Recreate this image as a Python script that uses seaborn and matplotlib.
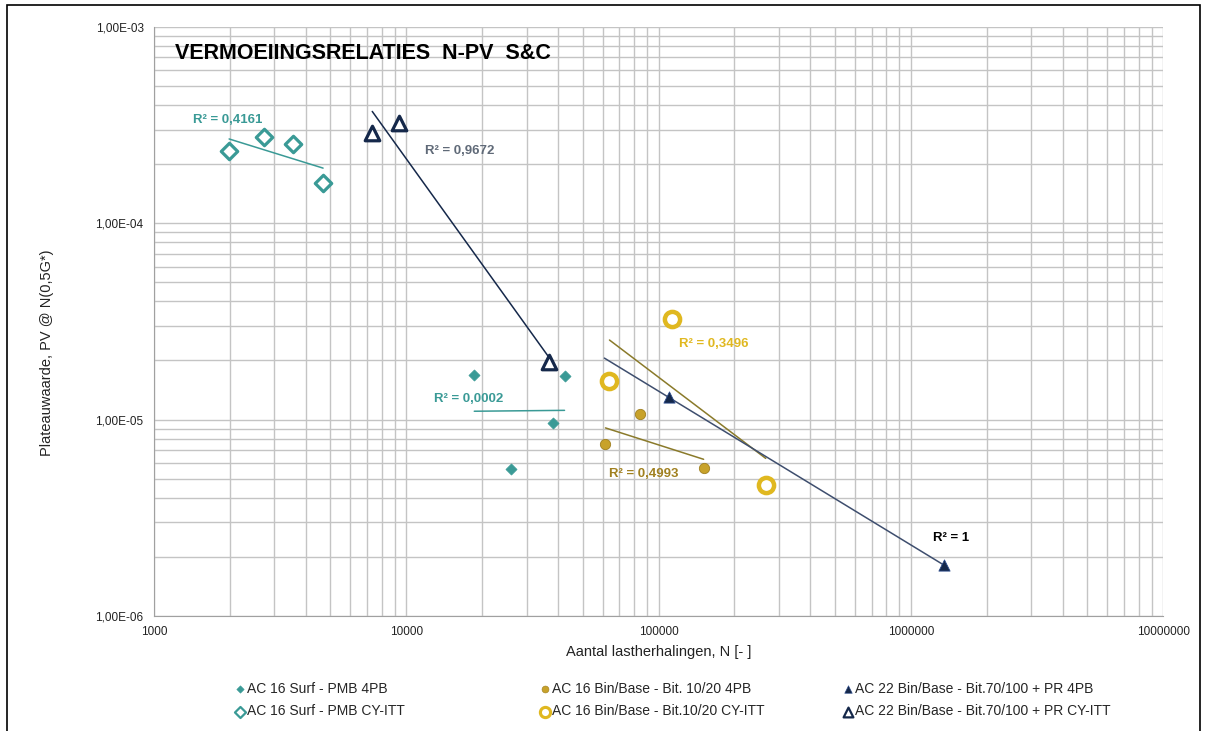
import numpy as np
import pandas as pd
import seaborn as sns
import matplotlib.pyplot as plt
from matplotlib.ticker import FixedLocator, FuncFormatter, LogLocator, NullFormatter
from matplotlib.patches import Rectangle

# data (N, PV)
surf_4pb_n = [18600, 42400, 38300, 25900]
surf_4pb_pv = [1.69e-5, 1.67e-5, 9.6e-6, 5.6e-6]
surf_itt_n = [1985, 2730, 3560, 4680]
surf_itt_pv = [2.32e-4, 2.74e-4, 2.52e-4, 1.61e-4]
bin_4pb_n = [61600, 84800, 150900]
bin_4pb_pv = [7.5e-6, 1.07e-5, 5.65e-6]
bin_itt_n = [112600, 63900, 266000]
bin_itt_pv = [3.26e-5, 1.57e-5, 4.62e-6]
pr_4pb_n = [109600, 1350000]
pr_4pb_pv = [1.30e-5, 1.82e-6]
pr_itt_n = [7330, 9380, 36900]
pr_itt_pv = [2.87e-4, 3.23e-4, 1.97e-5]

# the 4PB trend line of AC 22 is drawn back to this N
pr_4pb_trend_from = 61000

r2_labels = ["R² = 0,0002", "R² = 0,4161", "R² = 0,4993", "R² = 0,3496", "R² = 1", "R² = 0,9672"]

labels = [
    "AC 16 Surf - PMB 4PB",
    "AC 16 Surf - PMB CY-ITT",
    "AC 16 Bin/Base - Bit. 10/20 4PB",
    "AC 16 Bin/Base - Bit.10/20 CY-ITT",
    "AC 22 Bin/Base - Bit.70/100 + PR 4PB",
    "AC 22 Bin/Base - Bit.70/100 + PR CY-ITT",
]

sns.set_style("white")
plt.rcParams["font.family"] = ["Liberation Sans", "DejaVu Sans"]

fig = plt.figure(figsize=(12.07, 7.31), dpi=100)
ax = fig.add_axes([0.1276, 0.1573, 0.836, 0.806])

teal = "#3a9a96"
gold = "#e0b820"
gold_dk = "#c8a22a"
navy = "#15284a"

series = [
    (surf_4pb_n, surf_4pb_pv, dict(marker="D", s=32, color=teal, edgecolor=teal, linewidth=0.5), teal, None),
    (surf_itt_n, surf_itt_pv, dict(marker="D", s=70, facecolor="white", edgecolor=teal, linewidth=2.3), teal, None),
    (bin_4pb_n, bin_4pb_pv, dict(marker="o", s=55, color=gold_dk, edgecolor="#a08020", linewidth=0.6), "#8a7a2a", None),
    (bin_itt_n, bin_itt_pv, dict(marker="o", s=120, facecolor="white", edgecolor=gold, linewidth=3.2), "#8a7a2a", None),
    (pr_4pb_n, pr_4pb_pv, dict(marker="^", s=65, color=navy, edgecolor="#2a4a8a", linewidth=0.6), "#3e4e6e", pr_4pb_trend_from),
    (pr_itt_n, pr_itt_pv, dict(marker="^", s=110, facecolor="white", edgecolor=navy, linewidth=2.3), navy, None),
]

handles = []
for (n, pv, style, lcol, x0), lab in zip(series, labels):
    df = pd.DataFrame({"N": n, "PV": pv})
    # power trend line fitted in log space
    k, c = np.polyfit(np.log10(df["N"]), np.log10(df["PV"]), 1)
    xs = np.array([df["N"].min() if x0 is None else x0, df["N"].max()])
    ax.plot(xs, 10 ** (c + k * np.log10(xs)), color=lcol, lw=1.1, zorder=2)
    sns.scatterplot(data=df, x="N", y="PV", ax=ax, zorder=3, legend=False, **style)
    h = ax.scatter([], [], **{k2: v for k2, v in style.items() if k2 not in ("s", "linewidth")},
                   s=style["s"] * 0.45, linewidth=style["linewidth"] * 0.7, label=lab)
    handles.append(h)

ax.set_xscale("log")
ax.set_yscale("log")
ax.set_xlim(1000, 1e7)
ax.set_ylim(1e-6, 1e-3)

ax.xaxis.set_major_locator(FixedLocator([1e3, 1e4, 1e5, 1e6, 1e7]))
ax.xaxis.set_major_formatter(FuncFormatter(lambda v, p: f"{int(round(v))}"))
ax.xaxis.set_minor_locator(LogLocator(base=10, subs=np.arange(2, 10)))
ax.xaxis.set_minor_formatter(NullFormatter())
ax.yaxis.set_major_locator(FixedLocator([1e-6, 1e-5, 1e-4, 1e-3]))
ax.yaxis.set_major_formatter(FuncFormatter(lambda v, p: f"{v:.2E}".replace(".", ",")))
ax.yaxis.set_minor_locator(LogLocator(base=10, subs=np.arange(2, 10)))
ax.yaxis.set_minor_formatter(NullFormatter())

ax.grid(True, which="both", color="#c4c4c4", lw=1.0, zorder=0)
ax.set_axisbelow(True)
for side in ["top", "right"]:
    ax.spines[side].set_visible(False)
for side in ["left", "bottom"]:
    ax.spines[side].set_color("#a0a0a0")
ax.tick_params(axis="both", which="major", direction="out", length=4, color="#a0a0a0",
               labelsize=8.5, labelcolor="#222222")
ax.tick_params(axis="both", which="minor", length=0)

ax.set_xlabel("Aantal lastherhalingen, N [- ]", fontsize=10.5, color="#222222", labelpad=5)
ax.set_ylabel("Plateauwaarde, PV @ N(0,5G*)", fontsize=10.5, color="#222222")
ax.yaxis.set_label_coords(-0.099, 0.4465)

ax.text(0.021, 0.955, "VERMOEIINGSRELATIES  N-PV  S&C", transform=ax.transAxes,
        fontsize=15.5, fontweight="bold", color="black", va="center")

# R² labels
lab_kw = dict(fontsize=9.5, fontweight="bold", va="center")
ax.text(1430, 3.35e-4, r2_labels[1], color=teal, **lab_kw)
ax.text(11900, 2.32e-4, r2_labels[5], color="#606a78", **lab_kw)
ax.text(12900, 1.28e-5, r2_labels[0], color=teal, **lab_kw)
ax.text(120000, 2.43e-5, r2_labels[3], color=gold, **lab_kw)
ax.text(63800, 5.27e-6, r2_labels[2], color="#a08020", **lab_kw)
ax.text(1230000, 2.49e-6, r2_labels[4], color="black", **lab_kw)

# legend: three columns of two entries each
for i, x in enumerate([0.196, 0.4486, 0.6997]):
    fig.legend(handles=handles[2 * i:2 * i + 2], loc="upper left",
               bbox_to_anchor=(x, 0.067), frameon=False, fontsize=10,
               handletextpad=0.25, labelspacing=0.6, handlelength=0.5,
               borderpad=0, borderaxespad=0)

fig.patches.append(Rectangle((0.006, -0.01), 0.988, 1.003, transform=fig.transFigure,
                             fill=False, edgecolor="black", lw=1.2))

fig.savefig("out.png", dpi=100)
